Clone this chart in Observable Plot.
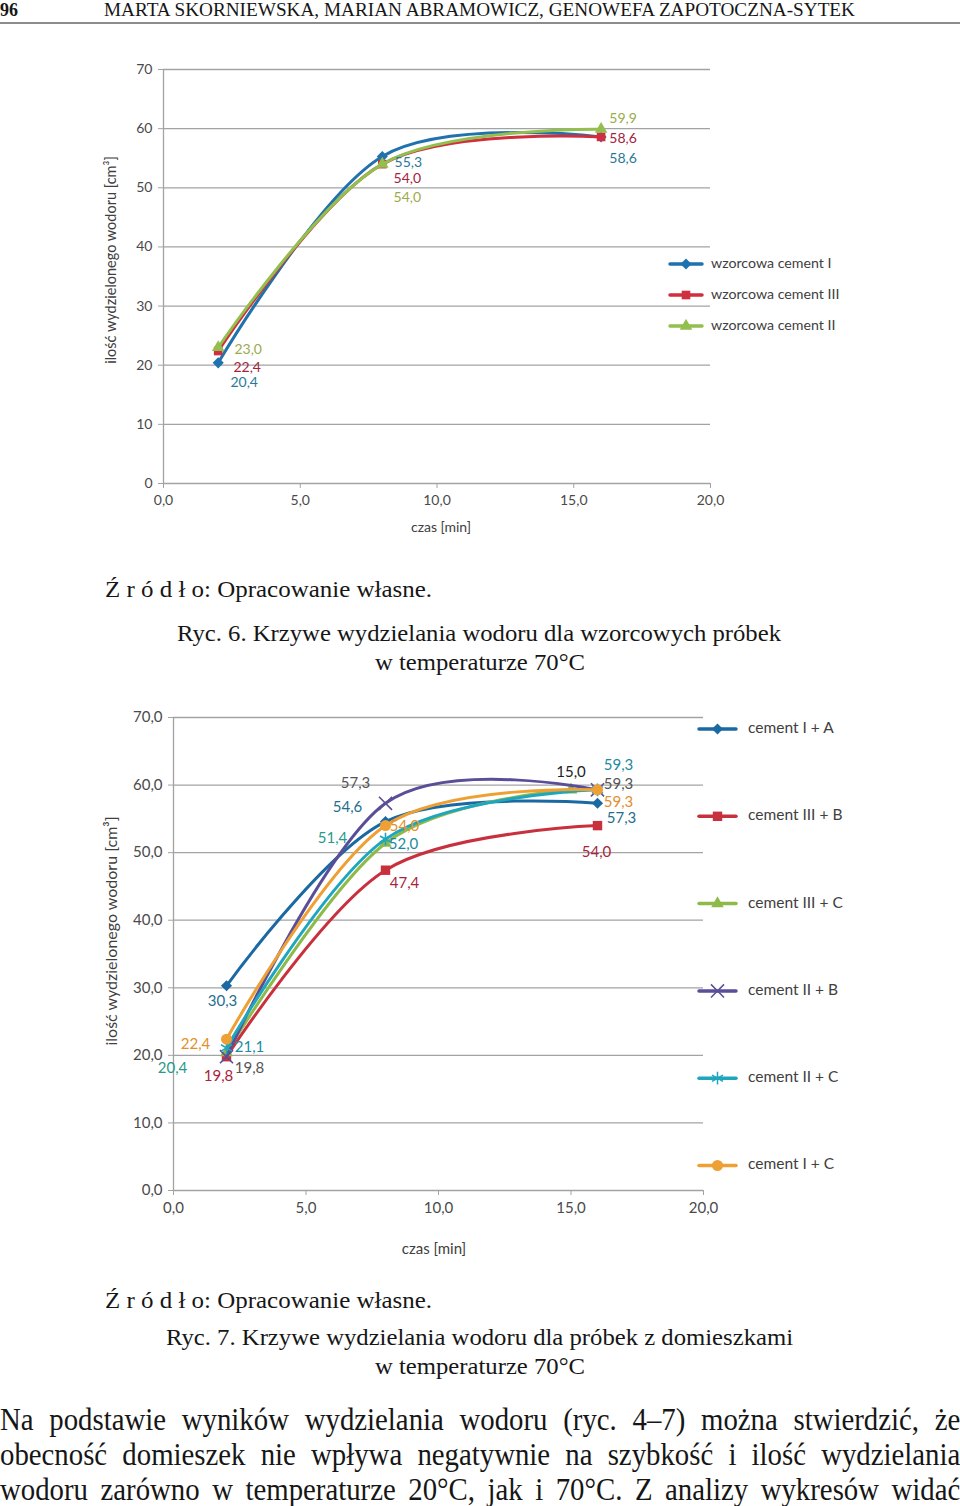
<!DOCTYPE html>
<html><head><meta charset="utf-8">
<script src="https://cdn.jsdelivr.net/npm/d3@7"></script>
<script src="https://cdn.jsdelivr.net/npm/@observablehq/plot@0.6"></script>
<style>
body{margin:0;background:#fff;}
#page{position:relative;width:960px;height:1506px;overflow:hidden;background:#fff;}
#page > svg{position:absolute;}
.body-line{position:absolute;left:0;width:1067px;font-family:"Liberation Serif",serif;font-size:32px;line-height:35px;text-align:justify;text-align-last:justify;white-space:nowrap;transform:scaleX(0.9);transform-origin:0 0;color:#161616;}
</style></head>
<body><div id="page"></div>
<script>
// ---------- DATA ----------
const xTicks = [0, 5, 10, 15, 20];
const yTicks = [0, 10, 20, 30, 40, 50, 60, 70];

// Ryc. 6 – wzorcowe
const topNames = ["wzorcowa cement I", "wzorcowa cement III", "wzorcowa cement II"];
const topX = [2, 8, 16];
const topCementI = [20.4, 55.3, 58.6];
const topCementIII = [22.4, 54.0, 58.6];
const topCementII = [23.0, 54.0, 59.9];

// Ryc. 7 – z domieszkami
const botNames = ["cement I + A", "cement III + B", "cement III + C", "cement II + B", "cement II + C", "cement I + C"];
const botX = [2, 8, 16];
const botXIIIC = [2, 8, 15];
const botIA = [30.3, 54.6, 57.3];
const botIIIB = [19.8, 47.4, 54.0];
const botIIIC = [20.4, 51.4, 59.3];
const botIIB = [19.8, 57.3, 59.3];
const botIIC = [21.1, 52.0, 59.3];
const botIC = [22.4, 54.0, 59.3];

// ---------- STYLES (kept apart from data) ----------
const topStyle = [
  {color: "#1f72ad", labelColor: "#2a7898", symbol: "diamond2", r: 5, off: [[26, 20], [26, 6], [22, 22]]},
  {color: "#cf2f3e", labelColor: "#a3233f", symbol: "square2", r: 5.5, off: [[29, 16], [25, 14], [22, 2]]},
  {color: "#93bf4e", labelColor: "#9aab4b", symbol: "triangle2", r: 6, off: [[30, 2], [25, 33], [22, -11]]}
];
const botStyle = [
  {color: "#1b69a3", labelColor: "#1f6f8e", symbol: "diamond2", r: 5, off: [[-4, 15], [-38, -14], [24, 15]]},
  {color: "#c9303d", labelColor: "#a8233d", symbol: "square2", r: 6, off: [[-8, 19], [19, 13], [-1, 27]]},
  {color: "#8eba4a", labelColor: "#2a9a8c", symbol: "triangle2", r: 6, off: [[-54, 16], [-53, -5], [0, -18]], lastIsX: true, lastColor: "#222"},
  {color: "#5a4e98", labelColor: "#555555", symbol: "times", r: 6, off: [[23, 11], [-30, -20], [21, -6]]},
  {color: "#1fa6bf", labelColor: "#1d8b9d", symbol: "asterisk", r: 6, off: [[23, -1], [18, 5], [21, -25]]},
  {color: "#eea034", labelColor: "#e28f2c", symbol: "circle", r: 5.5, off: [[-31, 5], [19, 1], [21, 12]]}
];

const fmt1 = v => v.toFixed(1).replace(".", ",");
const gridColor = "#a3a3a3";
const tickText = "#4a4a4a";
const fontFam = "Lato, 'Open Sans', sans-serif";

function seriesMarks(xs, ys, st) {
  const rows = xs.map((xv, i) => ({x: xv, y: ys[i]}));
  const strokeSym = st.symbol === "times" || st.symbol === "asterisk";
  return [
    Plot.line(rows, {x: "x", y: "y", stroke: st.color, strokeWidth: 3, curve: "cardinal"}),
    strokeSym
      ? Plot.dot(rows, {x: "x", y: "y", symbol: st.symbol, stroke: st.color, strokeWidth: 1.6, r: st.r})
      : Plot.dot(rows, {x: "x", y: "y", symbol: st.symbol, fill: st.color, r: st.r})
  ];
}
function labelMarks(xs, ys, st, fs) {
  return xs.map((xv, i) => {
    const isX = st.lastIsX && i === xs.length - 1;
    const d = [{x: xv, y: ys[i], t: isX ? fmt1(xv) : fmt1(ys[i])}];
    return Plot.text(d, {x: "x", y: "y", text: "t", dx: st.off[i][0], dy: st.off[i][1],
      fill: isX ? st.lastColor : st.labelColor, fontSize: fs, textAnchor: "middle"});
  });
}

function chart({top, height, mL, mR, mT, mB, yFmt, fs, xsList, ysList, styles}) {
  const series = [], labels = [];
  ysList.forEach((ys, i) => {
    series.push(...seriesMarks(xsList[i], ys, styles[i]));
    labels.push(...labelMarks(xsList[i], ys, styles[i], fs));
  });
  const svg = Plot.plot({
    width: 960, height,
    marginLeft: mL, marginRight: mR, marginTop: mT, marginBottom: mB,
    x: {domain: [0, 20]}, y: {domain: [0, 70]},
    style: {fontFamily: fontFam, fontSize: fs + "px", background: "transparent", overflow: "visible"},
    marks: [
      Plot.gridY(yTicks, {stroke: gridColor, strokeOpacity: 1, strokeWidth: 1.3}),
      Plot.ruleX([0], {stroke: gridColor, strokeWidth: 1.3}),
      Plot.axisY(yTicks, {tickSize: 5, tickPadding: 6, tickFormat: yFmt, stroke: gridColor, fill: tickText, label: null, fontSize: fs}),
      Plot.axisX(xTicks, {tickSize: 5, tickPadding: 7, tickFormat: fmt1, stroke: gridColor, fill: tickText, label: null, fontSize: fs}),
      ...series, ...labels
    ]
  });
  svg.style.top = top + "px";
  svg.style.left = "0px";
  return svg;
}

const page = document.getElementById("page");

page.appendChild(chart({
  top: 40, height: 520, mL: 163, mR: 250, mT: 29, mB: 77,
  yFmt: d => String(d), fs: 14,
  xsList: [topX, topX, topX],
  ysList: [topCementI, topCementIII, topCementII],
  styles: topStyle
}));

page.appendChild(chart({
  top: 690, height: 600, mL: 173, mR: 257, mT: 27, mB: 100,
  yFmt: fmt1, fs: 15,
  xsList: [botX, botX, botXIIIC, botX, botX, botX],
  ysList: [botIA, botIIIB, botIIIC, botIIB, botIIC, botIC],
  styles: botStyle
}));

// ---------- overlay: texts, legends ----------
const ov = d3.select(page).append("svg")
  .attr("width", 960).attr("height", 1506)
  .style("left", "0px").style("top", "0px").style("pointer-events", "none");

function serif(x, y, txt, size, len, opts = {}) {
  const t = ov.append("text").attr("x", x).attr("y", y).text(txt)
    .attr("font-family", "'Liberation Serif', serif").attr("font-size", size)
    .attr("fill", "#161616");
  if (len) t.attr("textLength", len).attr("lengthAdjust", "spacingAndGlyphs");
  if (opts.bold) t.attr("font-weight", "bold");
  return t;
}
// header
serif(0, 16, "96", 19, 18, {bold: true});
serif(104, 16, "MARTA SKORNIEWSKA, MARIAN ABRAMOWICZ, GENOWEFA ZAPOTOCZNA-SYTEK", 18, 751);
ov.append("line").attr("x1", 0).attr("x2", 960).attr("y1", 23).attr("y2", 23).attr("stroke", "#666").attr("stroke-width", 1.3);

// captions
serif(105, 597, "Ź r ó d ł o: Opracowanie własne.", 24, 327);
serif(177, 641, "Ryc. 6. Krzywe wydzielania wodoru dla wzorcowych próbek", 24, 604);
serif(375, 670, "w temperaturze 70°C", 24, 210);
serif(105, 1308, "Ź r ó d ł o: Opracowanie własne.", 24, 327);
serif(166, 1345, "Ryc. 7. Krzywe wydzielania wodoru dla próbek z domieszkami", 24, 627);
serif(375, 1374, "w temperaturze 70°C", 24, 210);

// axis titles
function sans(x, y, txt, size, anchor = "start", rot = 0) {
  return ov.append("text").attr("transform", `translate(${x},${y}) rotate(${rot})`)
    .attr("text-anchor", anchor).attr("dominant-baseline", "middle")
    .attr("font-family", fontFam).attr("font-size", size).attr("fill", "#404040").text(txt);
}
sans(441, 528, "czas [min]", 14, "middle");
sans(112, 260, "ilość wydzielonego wodoru [cm³]", 14.5, "middle", -90);
sans(434, 1250, "czas [min]", 15, "middle");
sans(113, 931, "ilość wydzielonego wodoru [cm³]", 16, "middle", -90);

// legends
function legendItem(x1, x2, y, st, label, size, textX) {
  ov.append("line").attr("x1", x1).attr("x2", x2).attr("y1", y).attr("y2", y)
    .attr("stroke", st.color).attr("stroke-width", 3.5).attr("stroke-linecap", "round");
  const types = {diamond2: d3.symbolDiamond2, square2: d3.symbolSquare2, triangle2: d3.symbolTriangle2,
    times: d3.symbolTimes, asterisk: d3.symbolAsterisk, circle: d3.symbolCircle};
  const strokeSym = st.symbol === "times" || st.symbol === "asterisk";
  const p = ov.append("path").attr("transform", `translate(${(x1 + x2) / 2},${y})`)
    .attr("d", d3.symbol(types[st.symbol], Math.PI * st.r * st.r)());
  if (strokeSym) p.attr("fill", "none").attr("stroke", st.color).attr("stroke-width", 1.5);
  else p.attr("fill", st.color);
  sans(textX, y, label, size);
}
topNames.forEach((n, i) => legendItem(670, 702, 264 + i * 31, topStyle[i], n, 14.2, 711));
botNames.forEach((n, i) => legendItem(699, 736, 729 + i * 87.3, botStyle[i], n, 15.5, 748));

// body text
const bodyLines = [
  "Na podstawie wyników wydzielania wodoru (ryc. 4–7) można stwierdzić, że",
  "obecność domieszek nie wpływa negatywnie na szybkość i ilość wydzielania",
  "wodoru zarówno w temperaturze 20°C, jak i 70°C. Z analizy wykresów widać"
];
bodyLines.forEach((t, i) => {
  const d = document.createElement("div");
  d.className = "body-line";
  d.style.top = (1402 + i * 35) + "px";
  d.textContent = t;
  page.appendChild(d);
});
</script></body></html>
